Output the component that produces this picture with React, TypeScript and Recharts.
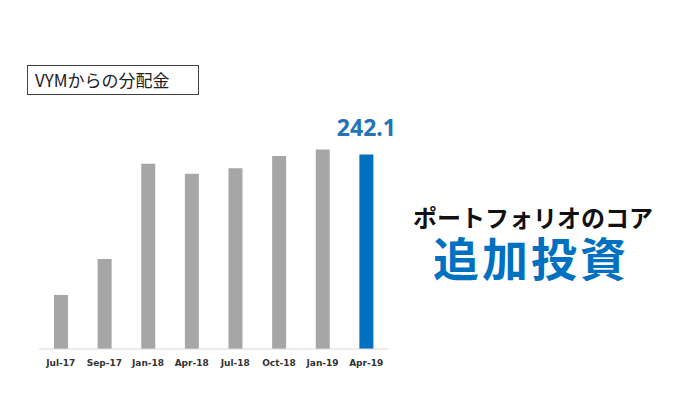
import { BarChart, Bar, XAxis, YAxis, Cell, LabelList } from "recharts";

const months = ["Jul-17", "Sep-17", "Jan-18", "Apr-18", "Jul-18", "Oct-18", "Jan-19", "Apr-19"];
const dividends = [67.3, 112.1, 230.5, 218.0, 225.1, 240.1, 248.3, 242.1];

const data = months.map((m, i) => ({ month: m, value: dividends[i] }));

const GRAY = "#a6a6a6";
const BLUE = "#0070c0";
const last = data.length - 1;

const renderLabel = (props: any) => {
  const { x, y, width, index, value } = props;
  if (index !== last) return null;
  return (
    <text
      x={x + width / 2}
      y={y - 19}
      textAnchor="middle"
      fill="#2472b8"
      fontSize={23}
      fontWeight={700}
      fontFamily="'Noto Sans', sans-serif"
    >
      {value}
    </text>
  );
};

const App = () => {
  return (
    <div style={{ position: "absolute", left: 0, top: 0, width: 680, height: 409, background: "#fff", fontFamily: "'Noto Sans CJK JP', sans-serif" }}>
      <div
        style={{
          position: "absolute",
          left: 27,
          top: 65,
          width: 172,
          height: 30,
          border: "1px solid #404040",
          boxSizing: "border-box",
          fontSize: 17,
          lineHeight: "28px",
          paddingLeft: 7,
          color: "#222",
        }}
      >
        VYMからの分配金
      </div>

      <BarChart
        width={680}
        height={409}
        data={data}
        margin={{ top: 108, right: 292, bottom: 30, left: 39 }}
        style={{ position: "absolute", left: 0, top: 0 }}
      >
        <YAxis hide domain={[0, 300]} />
        <XAxis
          dataKey="month"
          height={30}
          interval={0}
          tickLine={false}
          stroke="#d9d9d9"
          dy={3}
          tick={{ fill: "#333", fontSize: 9, fontWeight: 700, fontFamily: "'DejaVu Sans', sans-serif" }}
        />
        <Bar dataKey="value" barSize={14} isAnimationActive={false}>
          {data.map((d, i) => (
            <Cell key={d.month} fill={i === last ? BLUE : GRAY} />
          ))}
          <LabelList dataKey="value" content={renderLabel} />
        </Bar>
      </BarChart>

      <div
        style={{
          position: "absolute",
          left: 393,
          width: 280,
          top: 206,
          textAlign: "center",
          fontSize: 24,
          lineHeight: "22px",
          fontWeight: 700,
          color: "#111",
        }}
      >
        ポートフォリオのコア
      </div>
      <div
        style={{
          position: "absolute",
          left: 391,
          width: 280,
          top: 234,
          textAlign: "center",
          fontSize: 46,
          lineHeight: "44px",
          fontWeight: 700,
          letterSpacing: 3,
          color: BLUE,
        }}
      >
        追加投資
      </div>
    </div>
  );
};

export default App;
